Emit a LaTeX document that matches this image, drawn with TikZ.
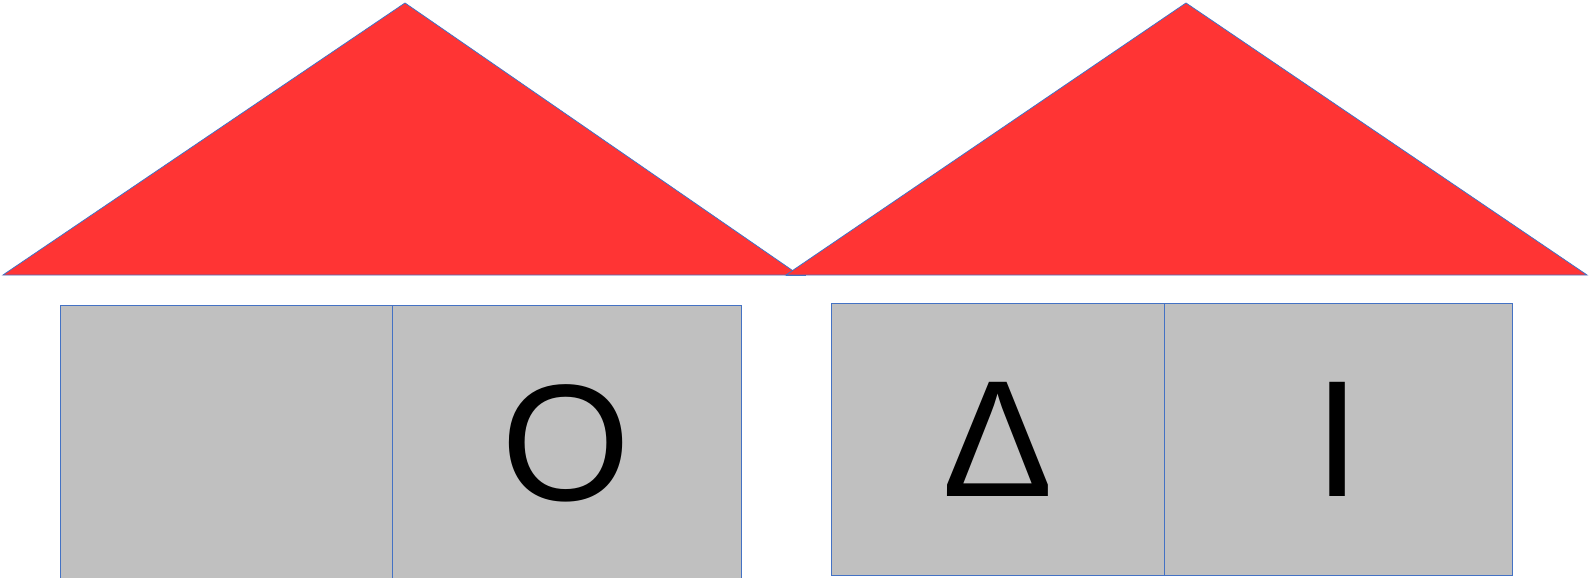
\documentclass[tikz,border=0pt]{standalone}
\usepackage{fontspec}
\setmainfont{Liberation Sans}
\usetikzlibrary{positioning}
\definecolor{roofCol}{HTML}{FF3434}
\definecolor{edgeCol}{HTML}{4472C4}
\definecolor{cellCol}{HTML}{C0C0C0}
\newcommand{\glyphfont}{\fontsize{166}{166}\selectfont}
\tikzset{
  roof/.style={fill=roofCol, draw=edgeCol, line width=0.8pt, line join=miter},
  cell/.style={draw=edgeCol, fill=cellCol, line width=0.8pt, inner sep=0pt,
               minimum width=#1, font=\glyphfont, text=black},
}
\begin{document}
\begin{tikzpicture}[x=1pt,y=-1pt]
  \useasboundingbox (0,0) rectangle (1590,578);

  % roofs
  \draw[roof] (3,275) -- (405,3) -- (799,275) -- cycle;
  \draw[roof] (786,275) -- (1186,3) -- (1587,275) -- cycle;
  \draw[edgeCol, line width=0.8pt] (786,275) -- (806,275);

  % left box
  \node[cell=332pt, minimum height=277pt] (cellA) at (226,443.5) {};
  \node[cell=349pt, minimum height=277pt] (cellO) at (566.5,443.5) {O};

  % right box
  \node[cell=333pt, minimum height=272pt] (cellD) at (997.5,439) {Δ};
  \node[cell=348pt, minimum height=272pt] (cellI) at (1338,439) {I};
\end{tikzpicture}
\end{document}
